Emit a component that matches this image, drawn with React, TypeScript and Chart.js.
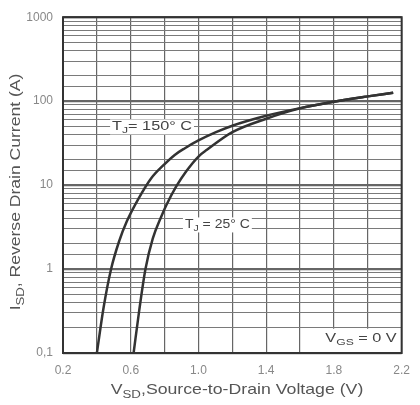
import { useEffect, useRef } from 'react';
import Chart from 'chart.js/auto';

// T_J = 150 °C curve
const vsd150 = [0.40, 0.44, 0.484, 0.53, 0.577, 0.646, 0.72, 0.80, 0.86, 0.92, 1.0, 1.1, 1.2, 1.4, 1.6, 1.8, 2.0, 2.15];
const isd150 = [0.1, 0.35, 1, 2.1, 3.7, 6.9, 12, 17.8, 22.9, 27.5, 34, 42.4, 51, 67, 82.6, 98.5, 114, 126];
// T_J = 25 °C curve
const vsd25 = [0.617, 0.65, 0.687, 0.73, 0.78, 0.81, 0.867, 0.93, 1.0, 1.05, 1.2, 1.4, 1.6, 1.8, 2.0, 2.15];
const isd25 = [0.1, 0.32, 1, 2.3, 4.2, 5.75, 9.5, 14.8, 21.9, 26.3, 42.7, 61.7, 82, 98.5, 114, 126];

const xLabeled = [0.2, 0.6, 1.0, 1.4, 1.8, 2.2];
const yDecades = [0.1, 1, 10, 100, 1000];
const yDecadeLabels = ['0,1', '1', '10', '100', '1000'];

const FONT = '"Liberation Sans", Arial, Helvetica, sans-serif';

type Part = { t: string; sub?: boolean };

function measureRich(ctx: CanvasRenderingContext2D, parts: Part[], size: number) {
  return parts.map((p) => {
    ctx.font = `${p.sub ? size * 0.75 : size}px ${FONT}`;
    return ctx.measureText(p.t).width;
  });
}

function drawRich(
  ctx: CanvasRenderingContext2D,
  parts: Part[],
  x: number,
  y: number,
  size: number,
  align: 'left' | 'center',
  color: string,
  sx = 1,
) {
  const widths = measureRich(ctx, parts, size);
  const total = widths.reduce((a, b) => a + b, 0);
  ctx.save();
  ctx.translate(align === 'center' ? x - (total * sx) / 2 : x, y);
  ctx.scale(sx, 1);
  let cx = 0;
  ctx.textBaseline = 'middle';
  ctx.textAlign = 'left';
  ctx.fillStyle = color;
  parts.forEach((p, i) => {
    ctx.font = `${p.sub ? size * 0.75 : size}px ${FONT}`;
    ctx.fillText(p.t, cx, p.sub ? size * 0.32 : 0);
    cx += widths[i];
  });
  ctx.restore();
  return total * sx;
}

const decorPlugin = {
  id: 'decor',
  afterDatasetsDraw(chart: any) {
    const ctx: CanvasRenderingContext2D = chart.ctx;
    const xs = chart.scales.x;
    const ys = chart.scales.y;
    const area = chart.chartArea;
    ctx.save();
    // VGS box (cell 1.6..2.2 x 0.1..0.2)
    const bx = xs.getPixelForValue(1.6);
    const by = ys.getPixelForValue(0.2);
    ctx.fillStyle = '#fff';
    ctx.fillRect(bx + 1, by + 1, area.right - bx - 1, area.bottom - by - 1);
    drawRich(ctx, [{ t: 'V' }, { t: 'GS', sub: true }, { t: ' = 0 V' }], xs.getPixelForValue(1.96), ys.getPixelForValue(0.148), 12.5, 'center', '#444', 1.3);

    const labels: { parts: Part[]; v: number; i: number; sx: number }[] = [
      { parts: [{ t: 'T' }, { t: 'J', sub: true }, { t: '= 150° C' }], v: 0.49, i: 50, sx: 1.3 },
      { parts: [{ t: 'T' }, { t: 'J', sub: true }, { t: ' = 25° C' }], v: 0.92, i: 3.4, sx: 1.12 },
    ];
    labels.forEach((l) => {
      const px = xs.getPixelForValue(l.v);
      const py = ys.getPixelForValue(l.i);
      const w = measureRich(ctx, l.parts, 12.5).reduce((a, b) => a + b, 0) * l.sx;
      ctx.fillStyle = '#fff';
      ctx.fillRect(px - 2, py - 7, w + 4, 15);
      drawRich(ctx, l.parts, px, py, 12.5, 'left', '#444', l.sx);
    });
    ctx.restore();
  },
  afterDraw(chart: any) {
    const ctx: CanvasRenderingContext2D = chart.ctx;
    const area = chart.chartArea;
    ctx.save();
    ctx.strokeStyle = '#333';
    ctx.lineWidth = 2;
    ctx.strokeRect(area.left, area.top, area.right - area.left, area.bottom - area.top);
    // axis titles
    drawRich(ctx, [{ t: 'V' }, { t: 'SD', sub: true }, { t: ',Source-to-Drain Voltage (V)' }], 237, 390, 15, 'center', '#555', 1.18);
    ctx.translate(16, 192);
    ctx.rotate(-Math.PI / 2);
    drawRich(ctx, [{ t: 'I' }, { t: 'SD', sub: true }, { t: ', Reverse Drain Current (A)' }], 0, 0, 15, 'center', '#555', 1.17);
    ctx.restore();
  },
};

function isDecade(v: number) {
  const l = Math.log10(v);
  return Math.abs(l - Math.round(l)) < 1e-6;
}

export default function App() {
  const ref = useRef<HTMLCanvasElement | null>(null);
  useEffect(() => {
    if (!ref.current) return;
    const chart = new Chart(ref.current, {
      type: 'line',
      data: {
        datasets: [
          {
            label: 'TJ = 150 °C',
            data: vsd150.map((v, i) => ({ x: v, y: isd150[i] })),
            borderColor: '#333',
            borderWidth: 2.5,
            pointRadius: 0,
            cubicInterpolationMode: 'monotone',
          },
          {
            label: 'TJ = 25 °C',
            data: vsd25.map((v, i) => ({ x: v, y: isd25[i] })),
            borderColor: '#333',
            borderWidth: 2.5,
            pointRadius: 0,
            cubicInterpolationMode: 'monotone',
          },
        ],
      },
      options: {
        animation: false,
        responsive: false,
        layout: { padding: { top: 14, right: 12, left: 0, bottom: 0 } },
        plugins: { legend: { display: false }, tooltip: { enabled: false } },
        scales: {
          x: {
            type: 'linear',
            min: 0.2,
            max: 2.2,
            afterFit: (s: any) => { s.height = 52; },
            border: { display: false },
            grid: { color: '#666', lineWidth: 1.2, drawTicks: false },
            ticks: {
              stepSize: 0.2,
              autoSkip: false,
              maxRotation: 0,
              padding: 10,
              color: '#888',
              font: { family: FONT, size: 12 },
              callback: (value: any) => {
                const v = Number(value);
                const hit = xLabeled.find((t) => Math.abs(t - v) < 1e-6);
                return hit !== undefined ? hit.toFixed(1) : '';
              },
            },
          },
          y: {
            type: 'logarithmic',
            min: 0.1,
            max: 1000,
            afterFit: (s: any) => { s.width = 63; },
            border: { display: false },
            grid: {
              drawTicks: false,
              color: (c: any) => (c.tick && isDecade(c.tick.value) ? '#666' : '#7a7a7a'),
              lineWidth: (c: any) => (c.tick && isDecade(c.tick.value) ? 2.2 : 1),
            },
            ticks: {
              autoSkip: false,
              padding: 10,
              color: '#888',
              font: { family: FONT, size: 12 },
              callback: (value: any) => {
                const v = Number(value);
                const idx = yDecades.findIndex((d) => Math.abs(d - v) / d < 1e-6);
                return idx >= 0 ? yDecadeLabels[idx] : '';
              },
            },
          },
        },
      },
      plugins: [decorPlugin],
    } as any);
    return () => chart.destroy();
  }, []);
  return (
    <div style={{ position: 'absolute', left: 0, top: 0, width: 420, height: 405, background: '#fff' }}>
      <canvas ref={ref} width={420} height={405} />
    </div>
  );
}
